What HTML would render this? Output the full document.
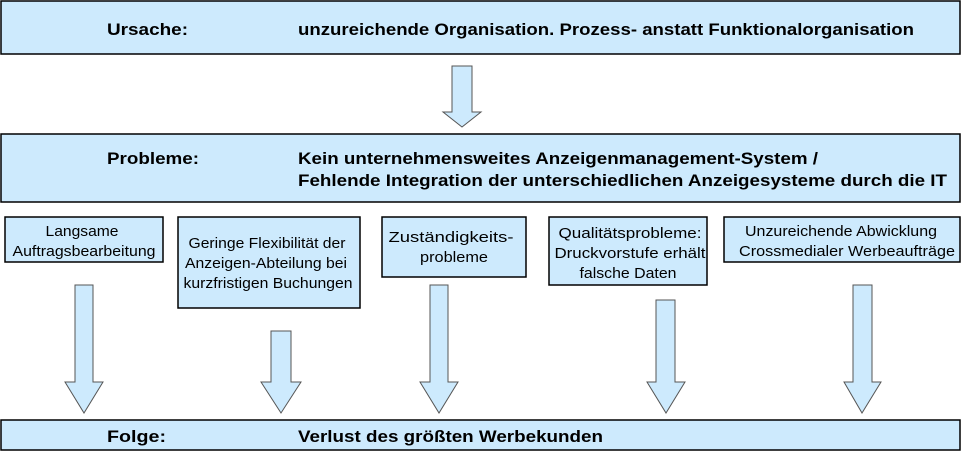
<!DOCTYPE html>
<html><head><meta charset="utf-8"><style>
body{margin:0;background:#fff}
svg{display:block}
.b{font:bold 17px "Liberation Sans",sans-serif;fill:#000}
.s{font:15px "Liberation Sans",sans-serif;fill:#000}
</style></head><body>
<svg width="962" height="454" viewBox="0 0 962 454">
<g fill="#cdeafd" stroke="#000" stroke-width="1.5">
<rect x="1" y="1" width="959" height="53"/>
<rect x="1" y="134" width="959" height="68"/>
<rect x="1" y="420" width="959" height="30"/>
<rect x="5" y="217" width="158" height="45"/>
<rect x="178" y="217" width="182" height="91"/>
<rect x="382" y="217" width="144" height="60"/>
<rect x="549" y="217" width="158" height="68"/>
<rect x="724" y="217" width="236" height="45"/>
</g>
<g fill="#cdeafd" stroke="#555" stroke-width="1">
<polygon points="452,66 472,66 472,112 481,112 462,127 443,112 452,112"/>
<polygon points="75,285 93,285 93,382 103,382 84,413 65,382 75,382"/>
<polygon points="271,331 291,331 291,382 301,382 281,413 261,382 271,382"/>
<polygon points="430,285 448,285 448,382 458,382 439,413 420,382 430,382"/>
<polygon points="656,300 675,300 675,382 685,382 666,413 647,382 656,382"/>
<polygon points="853,285 872,285 872,382 881,382 862,413 844,382 853,382"/>
</g>
<g lengthAdjust="spacingAndGlyphs">
<text class="b" x="107" y="35" textLength="81" lengthAdjust="spacingAndGlyphs">Ursache:</text>
<text class="b" x="298" y="35" textLength="616" lengthAdjust="spacingAndGlyphs">unzureichende Organisation. Prozess- anstatt Funktionalorganisation</text>
<text class="b" x="107" y="164" textLength="92" lengthAdjust="spacingAndGlyphs">Probleme:</text>
<text class="b" x="298" y="164" textLength="520" lengthAdjust="spacingAndGlyphs">Kein unternehmensweites Anzeigenmanagement-System /</text>
<text class="b" x="298" y="186" textLength="649" lengthAdjust="spacingAndGlyphs">Fehlende Integration der unterschiedlichen Anzeigesysteme durch die IT</text>
<text class="b" x="107" y="442" textLength="59" lengthAdjust="spacingAndGlyphs">Folge:</text>
<text class="b" x="298" y="442" textLength="305" lengthAdjust="spacingAndGlyphs">Verlust des größten Werbekunden</text>
</g>
<g class="s" text-anchor="middle">
<text x="82" y="236" textLength="73" lengthAdjust="spacingAndGlyphs">Langsame</text>
<text x="84" y="256" textLength="143" lengthAdjust="spacingAndGlyphs">Auftragsbearbeitung</text>
<text x="267" y="248" textLength="157" lengthAdjust="spacingAndGlyphs">Geringe Flexibilität der</text>
<text x="266" y="268" textLength="162" lengthAdjust="spacingAndGlyphs">Anzeigen-Abteilung bei</text>
<text x="268" y="288" textLength="169" lengthAdjust="spacingAndGlyphs">kurzfristigen Buchungen</text>
<text x="451" y="242" textLength="125" lengthAdjust="spacingAndGlyphs">Zuständigkeits-</text>
<text x="454" y="262" textLength="68" lengthAdjust="spacingAndGlyphs">probleme</text>
<text x="630" y="238" textLength="143" lengthAdjust="spacingAndGlyphs">Qualitätsprobleme:</text>
<text x="630" y="258" textLength="151" lengthAdjust="spacingAndGlyphs">Druckvorstufe erhält</text>
<text x="628" y="278" textLength="97" lengthAdjust="spacingAndGlyphs">falsche Daten</text>
<text x="841" y="236" textLength="192" lengthAdjust="spacingAndGlyphs">Unzureichende Abwicklung</text>
<text x="847" y="256" textLength="216" lengthAdjust="spacingAndGlyphs">Crossmedialer Werbeaufträge</text>
</g>
</svg>
</body></html>
